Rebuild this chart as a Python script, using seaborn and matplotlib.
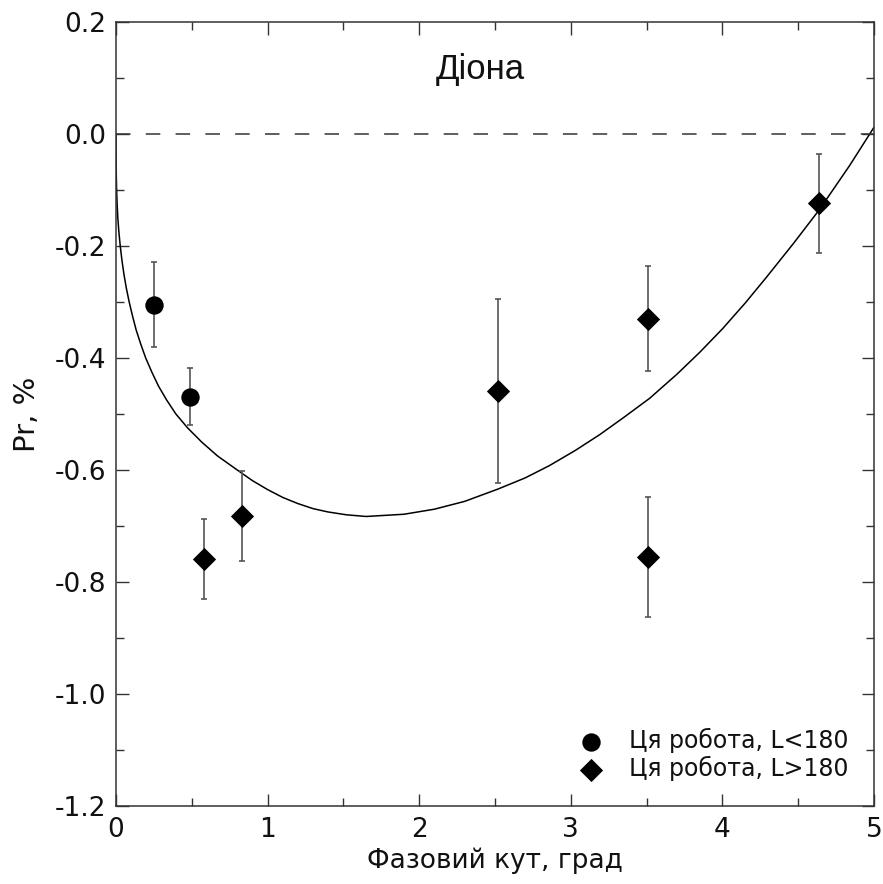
import matplotlib
matplotlib.use("Agg")
import matplotlib.pyplot as plt
import seaborn as sns
import pandas as pd
from matplotlib.ticker import MultipleLocator, FormatStrFormatter

# Data
circ_x = [0.25, 0.49]
circ_y = [-0.305, -0.469]
circ_err = [0.076, 0.051]

diam_x = [0.58, 0.83, 2.52, 3.51, 3.51, 4.64]
diam_y = [-0.759, -0.682, -0.459, -0.330, -0.755, -0.124]
diam_err = [0.072, 0.081, 0.165, 0.094, 0.107, 0.089]

# fitted phase curve
curve_x = [0.0, 0.0002, 0.001, 0.002, 0.004, 0.0075, 0.012, 0.019, 0.028, 0.039,
           0.052, 0.068, 0.087, 0.109, 0.133, 0.163, 0.196, 0.236, 0.28, 0.334,
           0.395, 0.473, 0.565, 0.67, 0.8, 0.9, 1.0, 1.1, 1.2, 1.3, 1.4, 1.52,
           1.65, 1.9, 2.1, 2.3, 2.52, 2.7, 2.86, 3.03, 3.19, 3.35, 3.52, 3.7,
           3.85, 4.0, 4.15, 4.29, 4.47, 4.64, 4.84, 5.0]
curve_y = [0.0, -0.025, -0.05, -0.075, -0.10, -0.125, -0.15, -0.175, -0.20, -0.225,
           -0.25, -0.275, -0.30, -0.325, -0.35, -0.375, -0.40, -0.425, -0.45, -0.475,
           -0.50, -0.525, -0.55, -0.575, -0.60, -0.619, -0.635, -0.649, -0.660,
           -0.669, -0.675, -0.680, -0.683, -0.679, -0.670, -0.656, -0.634, -0.614,
           -0.592, -0.565, -0.537, -0.506, -0.472, -0.429, -0.390, -0.348, -0.302,
           -0.256, -0.195, -0.135, -0.056, 0.012]

label_circ = "Ця робота, L<180"
label_diam = "Ця робота, L>180"
title_text = "Діона"
xlabel = "Фазовий кут, град"
ylabel = "Pr, %"

sns.set_theme(style="ticks")
plt.rcParams['font.family'] = ['DejaVu Sans']
plt.rcParams['text.color'] = '#111111'
plt.rcParams['axes.labelcolor'] = '#111111'
plt.rcParams['xtick.color'] = '#333333'
plt.rcParams['ytick.color'] = '#333333'
plt.rcParams['xtick.labelcolor'] = '#111111'
plt.rcParams['ytick.labelcolor'] = '#111111'

fig = plt.figure(figsize=(8.83, 8.84), dpi=100)
ax = fig.add_axes([116 / 883, 1 - 806 / 884, (874 - 116) / 883, (806 - 22) / 884])

curve_df = pd.DataFrame({"x": curve_x, "y": curve_y})
sns.lineplot(data=curve_df, x="x", y="y", ax=ax, color="black", lw=1.1,
             sort=False, estimator=None)

ax.axhline(0, color="#333333", lw=1.1, linestyle=(0, (9.5, 10)))

ecol = "#555555"
ax.errorbar(circ_x, circ_y, yerr=circ_err, fmt="none", ecolor=ecol,
            elinewidth=1.2, capsize=2.5, capthick=1.2)
ax.errorbar(diam_x, diam_y, yerr=diam_err, fmt="none", ecolor=ecol,
            elinewidth=1.2, capsize=2.5, capthick=1.2)

circ_df = pd.DataFrame({"x": circ_x, "y": circ_y})
diam_df = pd.DataFrame({"x": diam_x, "y": diam_y})
sns.scatterplot(data=circ_df, x="x", y="y", ax=ax, marker="o", s=175,
                color="black", edgecolor="black", linewidth=0, label=label_circ,
                zorder=5)
sns.scatterplot(data=diam_df, x="x", y="y", ax=ax, marker="D", s=140,
                color="black", edgecolor="black", linewidth=0, label=label_diam,
                zorder=5)

ax.set_xlim(0, 5)
ax.set_ylim(-1.2, 0.2)
ax.xaxis.set_major_locator(MultipleLocator(1))
ax.xaxis.set_minor_locator(MultipleLocator(0.5))
ax.yaxis.set_major_locator(MultipleLocator(0.2))
ax.yaxis.set_minor_locator(MultipleLocator(0.1))
ax.yaxis.set_major_formatter(FormatStrFormatter('%.1f'))

ax.tick_params(which="both", direction="in", top=True, right=True, width=1.0)
ax.tick_params(which="major", length=9, labelsize=19, pad=7)
ax.tick_params(which="minor", length=6)
ax.tick_params(axis="x", which="major", pad=8)
for sp in ax.spines.values():
    sp.set_color("#333333")
    sp.set_linewidth(1.1)
    sp.set_visible(True)

ax.set_xlabel(xlabel, fontsize=19, labelpad=3)
ax.set_ylabel(ylabel, fontsize=21, labelpad=10)

ax.text(2.4, 0.115, title_text, fontsize=25, ha="center", va="center",
        family=["Liberation Sans", "DejaVu Sans"])

leg = ax.legend(loc="lower right", frameon=False, fontsize=17,
                labelspacing=0.1, handletextpad=1.1, borderaxespad=0.3,
                handlelength=1.0, bbox_to_anchor=(0.988, 0.011))

fig.savefig("out.png", dpi=100)
